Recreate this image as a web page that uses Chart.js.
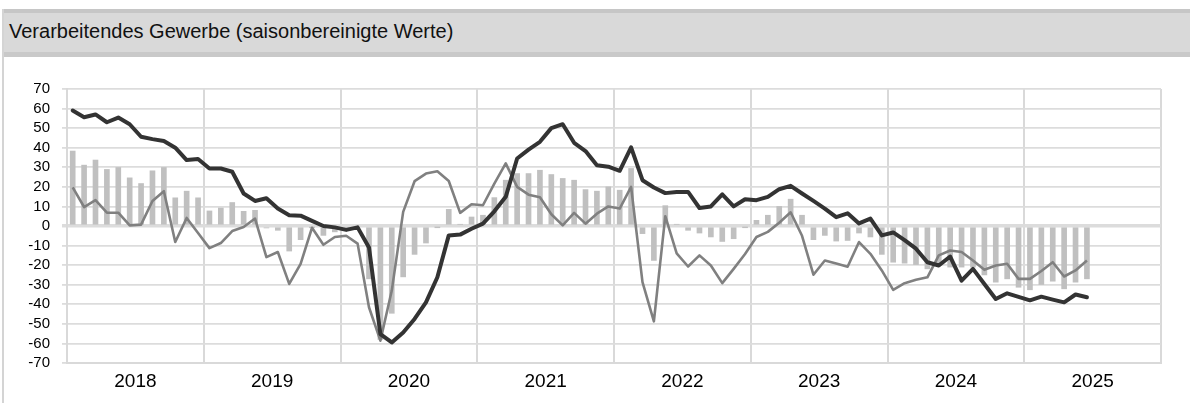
<!DOCTYPE html>
<html><head><meta charset="utf-8">
<script src="https://cdn.jsdelivr.net/npm/chart.js@4/dist/chart.umd.min.js"></script>
<style>
html,body{margin:0;padding:0;background:#fff;width:1190px;height:403px;overflow:hidden;font-family:"Liberation Sans",Arial,sans-serif;}
#frame{position:absolute;left:2px;top:9px;width:2px;height:394px;background:#d4d4d4;}
#bar{position:absolute;left:4px;top:9px;right:0;height:48px;background:#d9d9d9;border-top:4px solid #c6c6c6;border-bottom:5px solid #c9c9c9;box-sizing:border-box;}
#title{position:absolute;left:9px;top:21px;line-height:20px;font-size:20px;color:#111;white-space:nowrap;}
#wrap{position:absolute;left:0;top:57px;width:1190px;height:346px;}
</style></head>
<body>
<div id="frame"></div><div id="bar"></div>
<div id="title">Verarbeitendes Gewerbe (saisonbereinigte Werte)</div>
<div id="wrap"><canvas id="c" width="1190" height="346"></canvas></div>
<script>
// Year labels of the x axis (monthly data starting January 2018)
const yearLabels = ["2018","2019","2020","2021","2022","2023","2024","2025"];
// Dark thick line
const darkLine = [59,55.6,57,53,55.4,52,45.6,44.4,43.4,40,33.7,34.2,
 29.4,29.4,27.7,16.6,12.8,14.2,8.9,5.5,5.3,2.6,0,-0.7,
 -2,-0.7,-11,-55.2,-59.5,-54.4,-47.5,-39,-26.2,-4.8,-4.4,-1.4,
 1.2,7.5,14.9,34.5,39,43,50,52,42.5,38.3,31,30.3,
 28.2,40.2,23.4,19.7,16.8,17.4,17.4,9.2,10,16.2,10,13.7,
 13.2,14.9,18.8,20.5,16.6,12.8,8.9,4.5,6.5,1.3,3.8,-4.8,
 -3.3,-7.2,-11.6,-18.5,-20.2,-15.6,-27.9,-21.9,-29.6,-37.3,-34.4,-36.2,
 -38,-36.1,-37.6,-39,-35,-36.4];
// Medium grey line
const greyLine = [19.7,9.7,13.2,6.8,6.8,0.3,0.7,12.8,17.8,-8.2,4.1,-3.6,
 -11.3,-8.7,-2.6,-0.5,3.8,-15.9,-13.3,-29.6,-19.3,-0.9,-9.6,-5.6,
 -5,-9,-41.5,-58.6,-33,7.2,22.9,26.8,28,23,6.7,11.1,
 10.6,21.7,32,20,16,14.7,6,0.3,6.7,1.2,6.3,10,
 8.9,20,-28.7,-48.7,5,-14,-20.7,-15,-20.2,-29.2,-21.9,-14.3,
 -5.6,-3,1.7,7,-5,-24.9,-17.6,-19.2,-20.8,-8.2,-14.2,-22.7,
 -32.6,-29.2,-27.5,-26.2,-15,-12.5,-13.3,-17.6,-22.4,-20.2,-19.3,-27,
 -27,-23,-18.5,-25.8,-22.7,-17.6];
// Light grey bars
const barValues = [38.3,31.1,33.7,28.9,29.9,24.6,21.7,28.2,29.9,14.4,17.8,14.4,
 7.7,9.2,12,7.5,8,-1,-2.2,-12.8,-7,-0.5,-4.8,-3,
 -1.4,-1,-27,-58,-44.6,-26,-14.5,-8.7,-0.5,8.5,0.8,4.6,
 5.5,14.5,23.4,26.8,26.8,28.5,26.3,24.3,23.4,18.6,17.8,20,
 18.3,29.4,-3.9,-17.6,10.4,0.8,-2.2,-3.6,-5.6,-7.9,-6.5,-0.5,
 2.9,5.5,10,13.7,5.5,-7,-4.8,-7.7,-7.4,-3.6,-5.6,-14.5,
 -18.5,-19,-19.7,-21.9,-20.2,-21,-21,-21,-25,-28.7,-27,-31.3,
 -32.6,-29.9,-28.2,-32.1,-28.7,-27];

const toXY = arr => arr.map((v,i)=>({x:i+0.5,y:v}));
const monthsTotal = yearLabels.length*12;
const fontFam = '"Liberation Sans", Arial, sans-serif';

new Chart(document.getElementById('c'), {
  type: 'bar',
  data: {
    datasets: [
      {type:'line', data: toXY(darkLine), borderColor:'#333333', borderWidth:4, pointRadius:0, tension:0, borderJoinStyle:'round', borderCapStyle:'round'},
      {type:'line', data: toXY(greyLine), borderColor:'#808080', borderWidth:2.6, pointRadius:0, tension:0, borderJoinStyle:'round'},
      {type:'bar', data: toXY(barValues), backgroundColor:'#c0c0c0', barThickness:5}
    ]
  },
  options: {
    responsive:false, animation:false, devicePixelRatio:1,
    layout:{padding:{left:0,right:29,top:32,bottom:0}},
    plugins:{legend:{display:false}, tooltip:{enabled:false}},
    scales:{
      x:{type:'linear', min:0, max:monthsTotal, offset:false,
        afterBuildTicks: s => { const t=[]; for(let v=0; v<=monthsTotal; v+=6) t.push({value:v}); s.ticks=t; },
        ticks:{autoSkip:false, maxRotation:0, font:{family:fontFam, size:19}, color:'#000', padding:7,
          callback: v => (v%12===6) ? yearLabels[(v-6)/12] : ''},
        grid:{offset:false, color: ctx => (ctx.tick && ctx.tick.value%12===0) ? '#d9d9d9' : 'rgba(0,0,0,0)', lineWidth:2, drawTicks:false},
        border:{color:'#d9d9d9', width:2},
        afterFit: s => { s.height = 40; }
      },
      y:{min:-70, max:70,
        ticks:{stepSize:10, autoSkip:false, font:{family:fontFam, size:15}, color:'#000', padding:12},
        grid:{color:'#dcdcdc', lineWidth: ctx => (ctx.tick && ctx.tick.value===0) ? 3.5 : 1.8, tickLength:5},
        border:{color:'#d9d9d9', width:2},
        afterFit: s => { s.width = 67; }
      }
    }
  }
});
</script>
</body></html>
